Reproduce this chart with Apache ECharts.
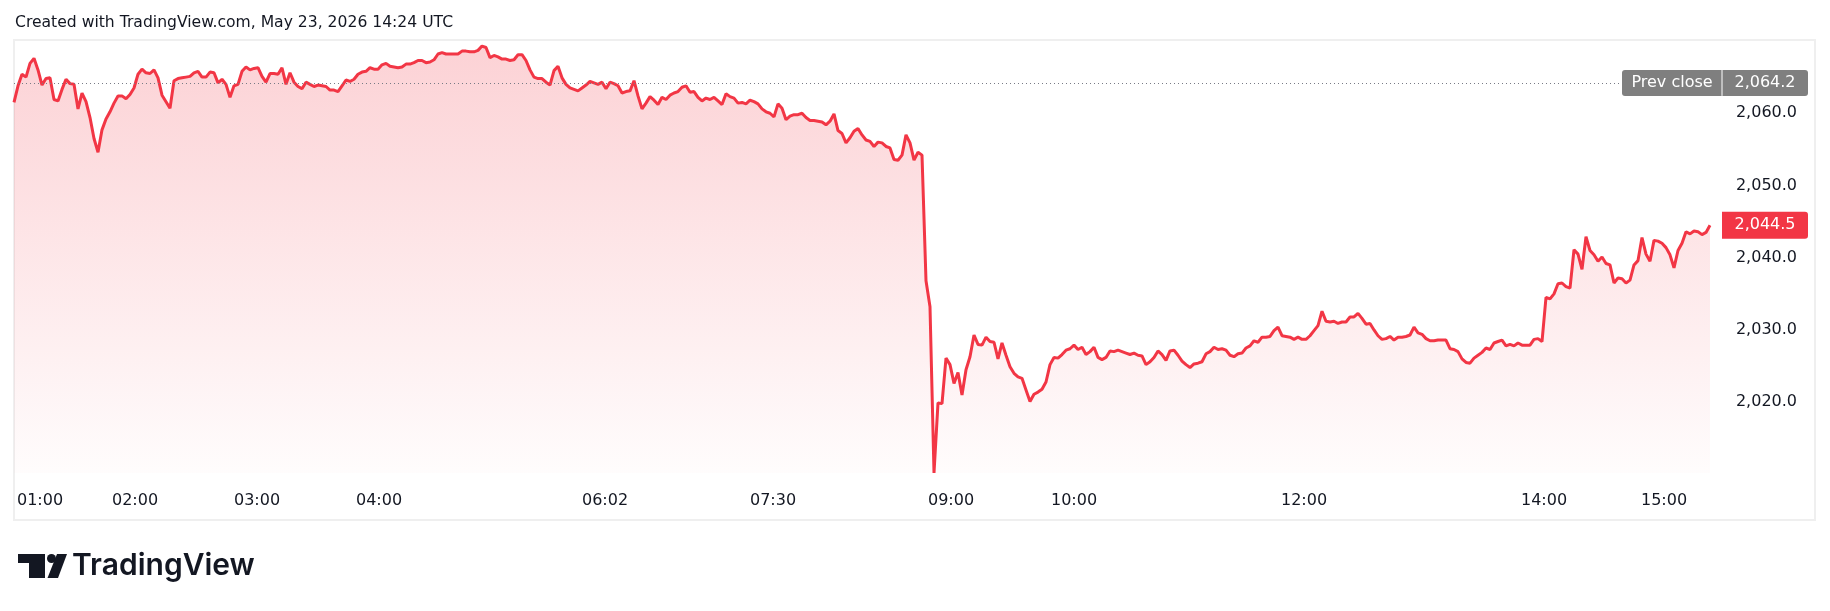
<!DOCTYPE html>
<html><head><meta charset="utf-8">
<script src="https://cdn.jsdelivr.net/npm/echarts@6/dist/echarts.min.js"></script>
<style>html,body{margin:0;padding:0;background:#fff;}#c{width:1830px;height:611px;}</style>
</head><body><div id="c"></div>
<script>
// 2-minute bars, session order (bar index on the x axis)
const pricesA = [
2061.5,2063.8,2065.4,2065.0,2066.9,2067.6,2066.0,2063.9,2064.8,2064.9,
2061.9,2061.7,2063.3,2064.7,2064.1,2064.0,2060.6,2062.8,2061.6,2059.4,
2056.5,2054.6,2057.7,2059.2,2060.2,2061.4,2062.4,2062.4,2062.0,2062.6,
2063.5,2065.4,2066.1,2065.6,2065.5,2066.0,2064.9,2062.5,2061.6,2060.7,
2064.5,2064.8,2064.9,2065.0,2065.1,2065.6,2065.8,2065.0,2065.0,2065.7,
2065.6,2064.2,2064.7,2064.0,2062.2,2063.8,2064.0,2065.8,2066.4,2066.0,
2066.2,2066.3,2065.1,2064.3,2065.5,2065.5,2065.4,2066.3,2064.0,2065.6,
2064.3,2063.7,2063.4,2064.3,2064.0,2063.7,2063.9,2063.8,2063.7,2063.2,
2063.2,2063.0,2063.8,2064.6,2064.4,2064.7,2065.4,2065.7,2065.8,2066.3,
2066.1,2066.1,2066.7,2066.9,2066.5,2066.4,2066.3,2066.4,2066.8,2066.8];
const pricesB = [
2067.0,2067.3,2067.3,2067.0,2067.1,2067.4,2068.2,2068.4,2068.2,2068.2,
2068.2,2068.2,2068.6,2068.6,2068.5,2068.5,2068.7,2069.3,2069.1,2067.7,
2068.0,2067.8,2067.5,2067.5,2067.3,2067.4,2068.1,2068.1,2067.3,2066.0,
2065.0,2064.8,2064.8,2064.3,2063.9,2065.9,2066.5,2064.9,2064.0,2063.5,
2063.3,2063.1,2063.5,2063.9,2064.4,2064.2,2064.0,2064.3,2063.4,2064.3,
2064.1,2063.8,2062.8,2063.0,2063.1,2064.5,2062.4,2060.6,2061.4,2062.3,
2061.8,2061.2,2062.2,2061.9,2062.5,2062.8,2063.0,2063.6,2063.8,2062.9,
2063.0,2062.2,2061.7,2062.1,2061.9,2062.2,2061.7,2061.2,2062.7,2062.3,
2062.1,2061.4,2061.5,2061.3,2061.8,2061.6,2061.3,2060.6,2060.2,2060.0,
2059.5,2061.3,2060.7,2059.1,2059.6,2059.8,2059.8,2060.0,2059.4,2059.0];
const pricesC = [
2059.0,2058.9,2058.8,2058.4,2058.9,2059.9,2057.6,2057.2,2055.9,2056.6,
2057.5,2057.9,2057.0,2056.3,2056.1,2055.4,2056.0,2055.9,2055.4,2055.2,
2053.6,2053.5,2054.2,2057.0,2055.9,2053.5,2054.6,2054.2,2036.8,2033.2,
2010.2,2019.9,2019.8,2026.1,2025.2,2022.6,2024.1,2021.0,2024.5,2026.3,
2029.3,2028.0,2027.9,2029.0,2028.4,2028.3,2026.0,2028.2,2026.5,2024.9,
2024.0,2023.5,2023.3,2021.7,2020.1,2021.1,2021.4,2021.8,2022.8,2025.2,
2026.2,2026.1,2026.6,2027.2,2027.4,2027.9,2027.3,2027.6,2026.6,2027.0,
2027.6,2026.2,2025.9,2026.2,2027.1,2027.0,2027.2,2027.0,2026.8,2026.6,
2026.8,2026.5,2026.4,2025.2,2025.6,2026.2,2027.1,2026.6,2025.8,2027.1,
2027.2,2026.5,2025.7,2025.2,2024.8,2025.3,2025.4,2025.6,2026.7,2027.0];
const pricesD = [
2027.6,2027.3,2027.4,2027.2,2026.5,2026.3,2026.7,2026.8,2027.5,2027.8,
2028.5,2028.3,2029.0,2029.0,2029.1,2029.9,2030.4,2029.2,2029.1,2029.0,
2028.7,2029.0,2028.7,2028.7,2029.2,2029.9,2030.6,2032.6,2031.2,2031.1,
2031.2,2030.9,2031.1,2031.1,2031.8,2031.8,2032.3,2031.6,2030.8,2030.9,
2030.0,2029.2,2028.7,2028.8,2029.1,2028.6,2029.0,2029.0,2029.1,2029.3,
2030.4,2029.6,2029.4,2028.8,2028.5,2028.5,2028.6,2028.6,2028.6,2027.4,
2027.3,2027.0,2026.0,2025.5,2025.4,2026.1,2026.5,2026.9,2027.5,2027.3,
2028.2,2028.4,2028.6,2027.8,2028.0,2027.8,2028.2,2027.9,2027.9,2027.9,
2028.7,2028.8,2028.4,2034.5,2034.3,2035.0,2036.4,2036.5,2036.0,2035.8,
2041.1,2040.5,2038.4,2042.9,2041.0,2040.4,2039.5,2040.1,2039.2,2039.0];
const pricesE = [
2036.5,2037.2,2037.1,2036.5,2036.9,2039.0,2039.6,2042.8,2040.5,2039.5,
2042.4,2042.3,2042.0,2041.4,2040.4,2038.6,2041.0,2042.0,2043.6,2043.3,
2043.7,2043.6,2043.2,2043.5,2044.5];

const timeTickPos    = [6.5, 30.25, 60.75, 91.25, 147.75, 189.75, 234.25, 265, 322.5, 382.5, 412.5];
const timeTickLabels = ['01:00','02:00','03:00','04:00','06:02','07:30','09:00','10:00','12:00','14:00','15:00'];
const priceTicks = [2020, 2030, 2040, 2050, 2060];
const prevClose = 2064.2;
const titleText = 'Created with TradingView.com, May 23, 2026 14:24 UTC';
const brandText = 'TradingView';

const prices = pricesA.concat(pricesB, pricesC, pricesD, pricesE);
const lastPrice = prices[prices.length - 1];

function fmt(v){
  const s = Number(v).toFixed(1); const p = s.split('.');
  return p[0].replace(/\B(?=(\d{3})+(?!\d))/g, ',') + '.' + p[1];
}

const FONT = '"DejaVu Sans", Verdana, sans-serif';
const chart = echarts.init(document.getElementById('c'), null, {renderer:'canvas'});
chart.setOption({
  animation: false,
  backgroundColor: '#ffffff',
  grid: {left: 14, right: 110, top: 41, bottom: 138, containLabel: false},
  xAxis: {
    type: 'value', min: 0, max: 426.5,
    axisLine: {show: false}, axisTick: {show: false}, splitLine: {show: false},
    axisLabel: {
      customValues: timeTickPos,
      formatter: function(v){ const k = timeTickPos.indexOf(v); return k >= 0 ? timeTickLabels[k] : ''; },
      color: '#131722', fontFamily: FONT, fontSize: 16, margin: 20
    }
  },
  yAxis: {
    type: 'value', position: 'right', min: 2010.2, max: 2070,
    axisLine: {show: false}, axisTick: {show: false}, splitLine: {show: false},
    axisLabel: {
      customValues: priceTicks, formatter: fmt,
      color: '#131722', fontFamily: FONT, fontSize: 16, align: 'right', margin: 77
    }
  },
  series: [{
    type: 'line',
    data: prices.map(function(v, i){ return [i, v]; }),
    showSymbol: false, symbol: 'none',
    lineStyle: {color: '#f23645', width: 3},
    areaStyle: {color: new echarts.graphic.LinearGradient(0, 0, 0, 1, [
      {offset: 0, color: 'rgba(242,54,69,0.32)'},
      {offset: 1, color: 'rgba(242,54,69,0.02)'}
    ])},
    markLine: {
      symbol: 'none', silent: true, label: {show: false},
      lineStyle: {color: '#787b86', type: [1, 3], width: 1},
      data: [{yAxis: prevClose}]
    }
  }]
});

const yPrev = chart.convertToPixel({yAxisIndex: 0}, prevClose);
const yLast = chart.convertToPixel({yAxisIndex: 0}, lastPrice);

chart.setOption({
  graphic: [
    {type: 'rect', z: 0, silent: true, shape: {x: 14, y: 40, width: 1801, height: 480},
     style: {fill: 'none', stroke: '#efefef', lineWidth: 2}},
    {type: 'text', z: 10, style: {text: titleText, x: 15, y: 23, font: '15.6px ' + FONT, fill: '#131722', verticalAlign: 'middle'}},
    // price scale labels
    {type: 'rect', z: 20, shape: {x: 1622, y: yPrev - 13, width: 186, height: 26, r: 3}, style: {fill: '#7f7f7f'}},
    {type: 'line', z: 21, shape: {x1: 1722, y1: yPrev - 13, x2: 1722, y2: yPrev + 13}, style: {stroke: '#ffffff', lineWidth: 1}},
    {type: 'text', z: 22, style: {text: 'Prev close', x: 1672, y: yPrev, font: '16px ' + FONT, fill: '#ffffff', align: 'center', verticalAlign: 'middle'}},
    {type: 'text', z: 22, style: {text: fmt(prevClose), x: 1765, y: yPrev, font: '16px ' + FONT, fill: '#ffffff', align: 'center', verticalAlign: 'middle'}},
    {type: 'rect', z: 20, shape: {x: 1722, y: yLast - 13.5, width: 86, height: 27, r: [0, 3, 3, 0]}, style: {fill: '#f23645'}},
    {type: 'text', z: 22, style: {text: fmt(lastPrice), x: 1765, y: yLast, font: '16px ' + FONT, fill: '#ffffff', align: 'center', verticalAlign: 'middle'}},
    // TradingView logo
    {type: 'rect', z: 10, shape: {x: 18, y: 554, width: 27, height: 9}, style: {fill: '#131722'}},
    {type: 'rect', z: 10, shape: {x: 29, y: 554, width: 16, height: 24}, style: {fill: '#131722'}},
    {type: 'circle', z: 10, shape: {cx: 51.5, cy: 558.5, r: 4.5}, style: {fill: '#131722'}},
    {type: 'polygon', z: 10, shape: {points: [[57, 554], [67, 554], [58, 578], [47.5, 578]]}, style: {fill: '#131722'}},
    {type: 'text', z: 10, style: {text: brandText, x: 72, y: 566, font: '600 30px Inter, "DejaVu Sans", sans-serif', fill: '#131722', verticalAlign: 'middle'}}
  ]
});
</script>
</body></html>
